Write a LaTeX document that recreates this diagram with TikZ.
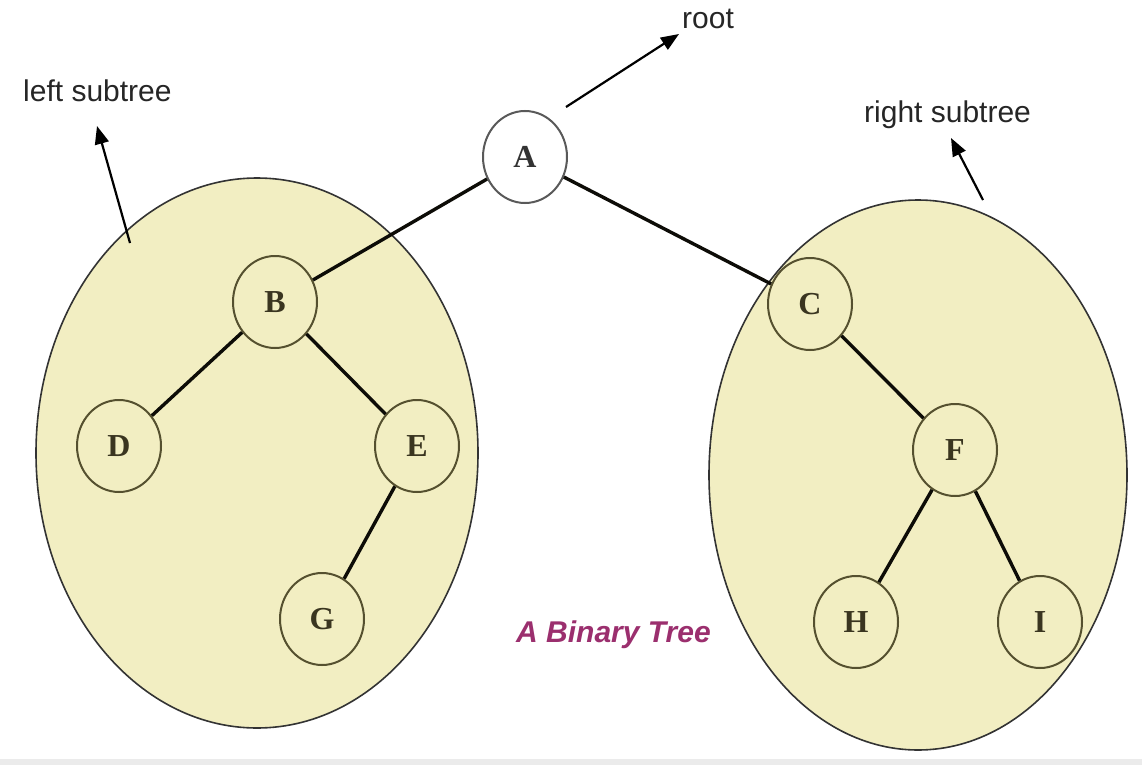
\documentclass[tikz,border=0pt]{standalone}
\usepackage{fontspec}
\setmainfont{Liberation Serif}
\setsansfont{Liberation Sans}
\usetikzlibrary{shapes.geometric,arrows.meta}
\definecolor{subfill}{HTML}{F2EEC2}
\definecolor{olive}{HTML}{55502F}
\definecolor{letter}{HTML}{3A3520}
\definecolor{titlecol}{HTML}{9B2F6E}
\begin{document}
\begin{tikzpicture}[x=1pt,y=-1pt,
  subtree/.style={ellipse,draw=black!80,line width=1.6pt,fill=subfill,inner sep=0pt},
  tnode/.style={ellipse,draw=olive,line width=2pt,minimum width=84pt,minimum height=92pt,inner sep=0pt,
    text=letter,font=\fontsize{32}{32}\selectfont\bfseries},
  rootnode/.style={tnode,draw=black!65,fill=white,text=black!80},
  edge/.style={line width=3.4pt,draw=black!85!olive},
  pointer/.style={line width=2.2pt,-{Triangle[length=18pt,width=14pt]}},
  label/.style={anchor=base west,inner sep=0pt,font=\sffamily\fontsize{30}{30}\selectfont,text=black!85}]
\useasboundingbox (0,0) rectangle (1142,765);
\fill[white] (0,0) rectangle (1142,765);
\fill[black!8] (0,759) rectangle (1142,765);
% subtree ellipses
\node[subtree,minimum width=442pt,minimum height=550pt] (LS) at (257,453) {};
\node[subtree,minimum width=418pt,minimum height=550pt] (RS) at (918,475) {};
% tree nodes
\node[rootnode] (A) at (525,157) {A};
\node[tnode] (B) at (275,302) {B};
\node[tnode] (D) at (119,446) {D};
\node[tnode] (E) at (417,446) {E};
\node[tnode] (G) at (322,619) {G};
\node[tnode] (C) at (810,304) {C};
\node[tnode] (F) at (955,450) {F};
\node[tnode] (H) at (856,622) {H};
\node[tnode] (I) at (1040,622) {I};
% edges
\draw[edge] (A) -- (B);
\draw[edge] (A) -- (C);
\draw[edge] (B) -- (D);
\draw[edge] (B) -- (E);
\draw[edge] (E) -- (G);
\draw[edge] (C) -- (F);
\draw[edge] (F) -- (H);
\draw[edge] (F) -- (I);
% labels
\node[label] (rootlbl) at (682,29) {root};
\node[label] (leftlbl) at (23,102) {left subtree};
\node[label] (rightlbl) at (864,123) {right subtree};
\node[anchor=base west,inner sep=0pt,text=titlecol,font=\sffamily\bfseries\itshape\fontsize{30}{30}\selectfont] (title) at (516,642) {A Binary Tree};
% pointer arrows
\coordinate (rootstart) at (566,107);
\coordinate (roottip) at (679,34);
\coordinate (leftstart) at (130,243);
\coordinate (lefttip) at (97,126);
\coordinate (rightstart) at (983,200);
\coordinate (righttip) at (951,138);
\draw[pointer] (rootstart) -- (roottip);
\draw[pointer] (leftstart) -- (lefttip);
\draw[pointer] (rightstart) -- (righttip);
\end{tikzpicture}
\end{document}
